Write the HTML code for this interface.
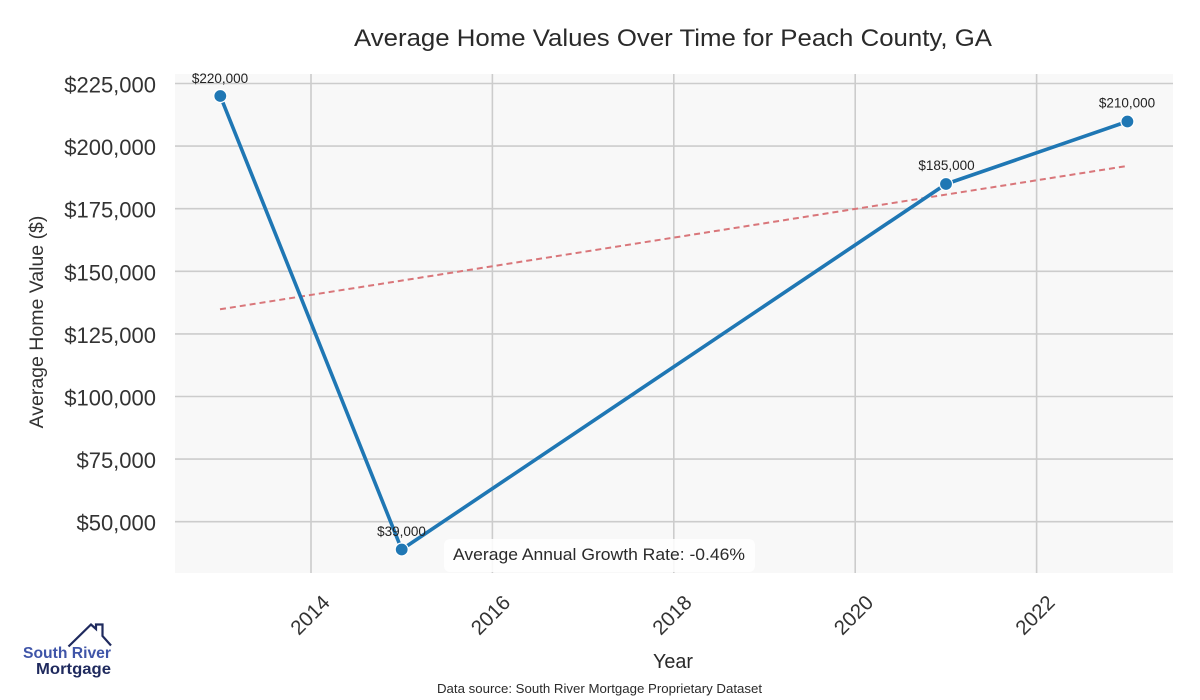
<!DOCTYPE html>
<html>
<head>
<meta charset="utf-8">
<style>
  html, body { margin: 0; padding: 0; background: #ffffff; }
  svg { display: block; }
  text { font-family: "Liberation Sans", "DejaVu Sans", sans-serif; }
</style>
</head>
<body>
<svg width="1200" height="700" viewBox="0 0 1200 700" xmlns="http://www.w3.org/2000/svg">
  <rect x="0" y="0" width="1200" height="700" fill="#ffffff"/>

  <!-- Title -->
  <text x="673" y="46" font-size="24" fill="#2a2a2a" text-anchor="middle" textLength="638" lengthAdjust="spacingAndGlyphs">Average Home Values Over Time for Peach County, GA</text>

  <!-- Plot background -->
  <rect x="175" y="74" width="998" height="499" fill="#f8f8f8"/>

  <!-- Horizontal gridlines -->
  <g stroke="#cccccc" stroke-width="1.6">
    <line x1="175" x2="1173" y1="83.5" y2="83.5"/>
    <line x1="175" x2="1173" y1="146.1" y2="146.1"/>
    <line x1="175" x2="1173" y1="208.7" y2="208.7"/>
    <line x1="175" x2="1173" y1="271.3" y2="271.3"/>
    <line x1="175" x2="1173" y1="333.9" y2="333.9"/>
    <line x1="175" x2="1173" y1="396.5" y2="396.5"/>
    <line x1="175" x2="1173" y1="459.1" y2="459.1"/>
    <line x1="175" x2="1173" y1="521.7" y2="521.7"/>
  </g>
  <!-- Vertical gridlines -->
  <g stroke="#cccccc" stroke-width="1.6">
    <line x1="311" x2="311" y1="74" y2="573"/>
    <line x1="492.4" x2="492.4" y1="74" y2="573"/>
    <line x1="673.8" x2="673.8" y1="74" y2="573"/>
    <line x1="855.2" x2="855.2" y1="74" y2="573"/>
    <line x1="1036.6" x2="1036.6" y1="74" y2="573"/>
  </g>

  <!-- Y tick labels -->
  <g font-size="22" fill="#333333" text-anchor="end">
    <text x="156" y="92.5">$225,000</text>
    <text x="156" y="155.1">$200,000</text>
    <text x="156" y="217.7">$175,000</text>
    <text x="156" y="280.3">$150,000</text>
    <text x="156" y="342.9">$125,000</text>
    <text x="156" y="405.5">$100,000</text>
    <text x="156" y="468.1">$75,000</text>
    <text x="156" y="530.7">$50,000</text>
  </g>

  <!-- Y axis label -->
  <text x="0" y="0" font-size="19.5" fill="#333333" text-anchor="middle" transform="translate(43,322) rotate(-90)">Average Home Value ($)</text>

  <!-- X tick labels -->
  <g font-size="20.5" fill="#333333" text-anchor="middle">
    <text x="0" y="7" transform="translate(310,615) rotate(-45)">2014</text>
    <text x="0" y="7" transform="translate(490.5,615) rotate(-45)">2016</text>
    <text x="0" y="7" transform="translate(672,615) rotate(-45)">2018</text>
    <text x="0" y="7" transform="translate(853.5,615) rotate(-45)">2020</text>
    <text x="0" y="7" transform="translate(1035,615) rotate(-45)">2022</text>
  </g>

  <!-- X axis label -->
  <text x="673" y="668" font-size="20" fill="#2a2a2a" text-anchor="middle" textLength="40" lengthAdjust="spacingAndGlyphs">Year</text>

  <!-- Trend line -->
  <line x1="220" y1="309.3" x2="1127" y2="166" stroke="#d9767a" stroke-width="2" stroke-dasharray="6,4"/>

  <!-- Data line -->
  <polyline points="220.3,96 401.7,549.5 946,184 1127.4,121.5" fill="none" stroke="#1f77b4" stroke-width="3.6" stroke-linejoin="round"/>

  <!-- Markers -->
  <g fill="#1f77b4" stroke="#ffffff" stroke-width="1.2">
    <circle cx="220.3" cy="96" r="6.5"/>
    <circle cx="401.7" cy="549.5" r="6.5"/>
    <circle cx="946" cy="184" r="6.5"/>
    <circle cx="1127.4" cy="121.5" r="6.5"/>
  </g>

  <!-- Data labels -->
  <g font-size="13.5" fill="#222222" text-anchor="middle">
    <text x="220" y="83">$220,000</text>
    <text x="401.5" y="536">$39,000</text>
    <text x="946.5" y="170">$185,000</text>
    <text x="1127" y="107.5">$210,000</text>
  </g>

  <!-- Growth rate box -->
  <rect x="444" y="539" width="311" height="33" rx="6" ry="6" fill="#ffffff" fill-opacity="0.85"/>
  <text x="453" y="560" font-size="16.5" fill="#2a2a2a" textLength="292" lengthAdjust="spacingAndGlyphs">Average Annual Growth Rate: -0.46%</text>

  <!-- Data source -->
  <text x="437" y="693" font-size="13" fill="#2a2a2a" textLength="325" lengthAdjust="spacingAndGlyphs">Data source: South River Mortgage Proprietary Dataset</text>

  <!-- Logo -->
  <polyline points="68.5,646.5 91,624.5 96,629 96,624.5 102.5,624.5 102.5,636 111,645.5" fill="none" stroke="#1f2a5e" stroke-width="2.2" stroke-linejoin="miter"/>
  <text x="23" y="658" font-size="16" font-weight="bold" fill="#3f55a8" textLength="88" lengthAdjust="spacingAndGlyphs">South River</text>
  <text x="36" y="674" font-size="16" font-weight="bold" fill="#1f2a5e" textLength="75" lengthAdjust="spacingAndGlyphs">Mortgage</text>
</svg>
</body>
</html>
